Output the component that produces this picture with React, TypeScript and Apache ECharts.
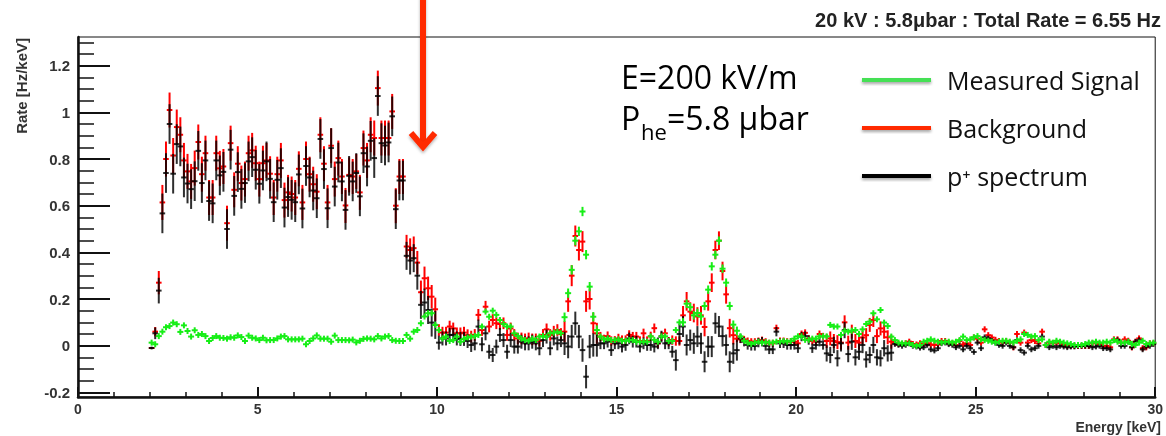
import React, { useEffect, useRef } from 'react';
import * as echarts from 'echarts';

// Histogram binning (keV)
const BIN_START = 2.0;
const BIN_WIDTH = 0.1;

// Rates [Hz/keV], one value per 0.1 keV bin starting at 2.0 keV (rows of 10 bins = 1 keV)
const measuredSignal = [
  0.013, 0.006, 0.041, 0.06, 0.079, 0.084, 0.099, 0.092, 0.059, 0.087,
  0.063, 0.039, 0.066, 0.046, 0.05, 0.041, 0.02, 0.033, 0.041, 0.034,
  0.033, 0.03, 0.036, 0.034, 0.044, 0.037, 0.02, 0.043, 0.034, 0.031,
  0.024, 0.034, 0.023, 0.024, 0.024, 0.031, 0.039, 0.041, 0.027, 0.027,
  0.027, 0.027, 0.03, 0.006, 0.02, 0.031, 0.044, 0.03, 0.03, 0.03,
  0.017, 0.043, 0.024, 0.024, 0.024, 0.023, 0.026, 0.014, 0.021, 0.029,
  0.031, 0.03, 0.027, 0.041, 0.031, 0.039, 0.041, 0.024, 0.021, 0.02,
  0.02, 0.046, 0.03, 0.06, 0.067, 0.096, 0.125, 0.139, 0.139, 0.089,
  0.067, 0.031, 0.039, 0.02, 0.024, 0.039, 0.017, 0.029, 0.035, 0.039,
  0.041, 0.046, 0.082, 0.146, 0.124, 0.15, 0.132, 0.11, 0.093, 0.082,
  0.082, 0.053, 0.041, 0.03, 0.024, 0.021, 0.03, 0.024, 0.039, 0.041,
  0.039, 0.053, 0.056, 0.06, 0.053, 0.122, 0.225, 0.325, 0.45, 0.49,
  0.575, 0.39, 0.253, 0.124, 0.067, 0.039, 0.027, 0.031, 0.024, 0.024,
  0.027, 0.021, 0.021, 0.024, 0.024, 0.017, 0.017, 0.017, 0.017, 0.04,
  0.025, 0.017, 0.04, 0.04, 0.02, 0.02, 0.067, 0.1, 0.1, 0.18,
  0.165, 0.13, 0.14, 0.125, 0.17, 0.24, 0.34, 0.39, 0.45, 0.33,
  0.27, 0.17, 0.09, 0.064, 0.04, 0.021, 0.013, 0.007, 0.013, 0.017,
  0.013, 0.015, 0.013, 0.013, 0.017, 0.017, 0.02, 0.017, 0.02, 0.03,
  0.04, 0.04, 0.025, 0.025, 0.03, 0.03, 0.04, 0.04, 0.04, 0.089,
  0.082, 0.082, 0.046, 0.064, 0.06, 0.064, 0.067, 0.05, 0.07, 0.093,
  0.103, 0.139, 0.113, 0.153, 0.099, 0.084, 0.039, 0.024, 0.013, 0.01,
  0.01, 0.01, 0.003, -0.001, 0.003, 0.017, 0.021, 0.027, 0.021, 0.017,
  0.013, 0.017, 0.017, 0.013, 0.017, 0.024, 0.039, 0.024, 0.027, 0.036,
  0.041, 0.027, 0.024, 0.021, 0.017, 0.013, 0.017, 0.021, 0.021, 0.017,
  0.013, 0.021, 0.027, 0.05, 0.046, 0.039, 0.041, 0.024, 0.027, 0.003,
  0.017, 0.013, 0.021, 0.017, 0.013, 0.01, 0.007, 0.003, 0.003, 0.003,
  0.007, 0.013, 0.013, 0.017, 0.013, 0.013, 0.017, 0.013, 0.024, 0.017,
  0.013, 0.013, 0.017, 0.007, 0.003, 0.013, 0.021, 0.007, 0.01, 0.013,
];

const background = [
  -0.01, 0.06, 0.27, 0.614, 0.8, 1.01, 0.815, 0.937, 0.904, 0.794,
  0.747, 0.704, 0.761, 0.873, 0.735, 0.825, 0.635, 0.635, 0.825, 0.76,
  0.768, 0.525, 0.868, 0.668, 0.78, 0.697, 0.714, 0.825, 0.837, 0.782,
  0.714, 0.782, 0.794, 0.737, 0.635, 0.735, 0.794, 0.624, 0.657, 0.65,
  0.635, 0.758, 0.614, 0.8, 0.735, 0.692, 0.66, 0.904, 0.78, 0.614,
  0.857, 0.714, 0.804, 0.725, 0.601, 0.732, 0.725, 0.747, 0.657, 0.847,
  0.794, 0.904, 0.89, 1.104, 0.89, 0.89, 0.89, 1.004, 0.6, 0.725,
  0.725, 0.425, 0.41, 0.418, 0.356, 0.229, 0.289, 0.246, 0.21, 0.156,
  0.067, 0.056, 0.056, 0.082, 0.074, 0.053, 0.053, 0.056, 0.045, 0.039,
  0.046, 0.132, 0.067, 0.167, 0.082, 0.11, 0.096, 0.093, 0.096, 0.046,
  0.074, 0.046, 0.031, 0.031, 0.027, 0.031, 0.027, 0.027, 0.021, 0.046,
  0.07, 0.046, 0.06, 0.067, 0.05, 0.06, 0.19, 0.3, 0.47, 0.41,
  0.446, 0.19, 0.2, 0.096, 0.053, 0.039, 0.027, 0.041, 0.02, 0.021,
  0.031, 0.024, 0.024, 0.046, 0.039, 0.039, 0.02, 0.053, 0.02, 0.04,
  0.075, 0.01, 0.04, 0.053, 0.017, 0.024, 0.02, 0.02, 0.13, 0.19,
  0.146, 0.14, 0.125, 0.13, 0.08, 0.19, 0.27, 0.41, 0.45, 0.32,
  0.22, 0.075, 0.045, 0.03, 0.027, 0.027, 0.02, 0.017, 0.017, 0.02,
  0.024, 0.017, 0.01, 0.01, 0.075, 0.02, 0.02, 0.017, 0.017, 0.017,
  0.01, 0.05, 0.055, 0.03, 0.02, 0.017, 0.05, 0.04, 0.02, 0.031,
  0.02, 0.015, 0.013, 0.1, 0.013, 0.06, 0.02, 0.013, 0.035, 0.045,
  0.089, 0.11, 0.041, 0.074, 0.06, 0.036, 0.017, 0.013, 0.007, 0.007,
  0.01, 0.017, 0.007, 0.005, 0.01, 0.007, 0.01, 0.005, 0.003, 0.005,
  0.02, 0.02, 0.013, 0.01, 0.003, 0.02, 0.005, 0.01, 0.003, 0.035,
  0.03, 0.013, 0.07, 0.045, 0.035, 0.025, 0.02, 0.013, 0.02, 0.013,
  -0.007, 0.05, 0.013, 0.056, 0.013, 0.024, 0.02, 0.01, 0.06, 0.003,
  0.013, 0.01, 0.013, 0.01, 0.003, -0.001, -0.001, -0.001, -0.001, -0.001,
  -0.001, -0.001, 0.01, 0.013, 0.007, -0.001, -0.001, -0.007, 0.027, 0.027,
  0.013, 0.027, 0.021, -0.007, 0.017, 0.031, -0.011, -0.007, 0.01, 0.01,
];

const protonSpectrum = [
  -0.01, 0.053, 0.236, 0.567, 0.74, 0.95, 0.737, 0.864, 0.854, 0.721,
  0.695, 0.671, 0.705, 0.835, 0.697, 0.794, 0.62, 0.61, 0.794, 0.73,
  0.745, 0.5, 0.84, 0.642, 0.744, 0.672, 0.697, 0.79, 0.808, 0.754,
  0.694, 0.751, 0.79, 0.715, 0.615, 0.711, 0.761, 0.592, 0.637, 0.625,
  0.615, 0.734, 0.588, 0.77, 0.721, 0.665, 0.632, 0.886, 0.757, 0.589,
  0.847, 0.682, 0.785, 0.704, 0.582, 0.728, 0.704, 0.74, 0.64, 0.825,
  0.768, 0.878, 0.804, 1.07, 0.868, 0.858, 0.871, 0.983, 0.585, 0.708,
  0.708, 0.385, 0.365, 0.375, 0.3, 0.175, 0.185, 0.153, 0.099, 0.089,
  0.013, 0.031, 0.031, 0.046, 0.046, 0.031, 0.029, 0.029, 0.02, 0.003,
  0.01, 0.082, 0.006, 0.053, -0.026, -0.04, -0.004, 0.046, 0.024, -0.026,
  0.024, -0.004, -0.004, 0.017, 0.01, 0.01, 0.017, 0.01, -0.011, 0.024,
  0.039, -0.011, 0.031, 0.01, 0.024, 0.01, -0.004, 0.039, 0.096, 0.039,
  -0.019, -0.133, -0.004, 0.003, 0.003, 0.01, 0.01, 0.017, -0.019, 0.01,
  0.01, -0.004, 0.003, 0.031, 0.017, 0.017, -0.004, 0.01, 0.003, 0.003,
  -0.004, 0.01, 0.039, 0.01, 0.01, -0.026, -0.062, 0.05, 0.082, 0.003,
  0.024, 0.01, 0.039, 0.01, -0.069, -0.004, -0.004, 0.096, 0.082, 0.041,
  0.003, -0.069, -0.033, -0.019, 0.031, 0.017, 0.003, -0.001, -0.001, 0.013,
  0.017, -0.001, -0.016, -0.016, 0.06, 0.01, 0.01, 0.003, 0.003, 0.003,
  -0.011, 0.039, 0.041, 0.024, -0.011, 0.003, 0.017, 0.003, -0.033, -0.04,
  0.003, -0.054, 0.01, 0.067, -0.036, 0.017, -0.05, -0.026, 0.003, -0.059,
  -0.04, 0.003, -0.05, -0.054, -0.011, -0.033, -0.03, 0.007, 0.003, -0.001,
  0.003, 0.01, -0.001, -0.004, -0.009, -0.007, 0.003, -0.016, -0.021, -0.011,
  0.01, 0.013, 0.006, 0.003, -0.007, -0.001, -0.016, -0.001, -0.011, -0.027,
  0.013, -0.011, 0.036, 0.031, 0.021, 0.013, 0.003, -0.001, 0.013, -0.001,
  -0.007, 0.024, -0.019, -0.03, -0.001, -0.016, -0.011, -0.001, 0.039, 0.003,
  -0.007, -0.001, -0.007, -0.001, -0.004, -0.007, -0.004, -0.004, -0.001, -0.001,
  -0.001, -0.001, -0.007, -0.004, -0.001, -0.011, -0.011, -0.016, 0.024, 0.024,
  -0.001, -0.001, 0.017, -0.007, 0.017, 0.024, -0.016, -0.004, -0.001, 0.007,
];

// Error bar half-lengths by energy range: [from keV, to keV, error]
const measuredErr: [number, number, number][] = [
  [2.0, 13.5, 0.007], [13.5, 14.5, 0.02], [14.5, 16.8, 0.007], [16.8, 18.4, 0.018],
  [18.4, 20.9, 0.007], [20.9, 22.7, 0.012], [22.7, 30, 0.006],
];
const backgroundErr: [number, number, number][] = [
  [2.0, 2.1, 0.004], [2.1, 2.2, 0.02], [2.2, 2.3, 0.05], [2.3, 9.1, 0.075],
  [9.1, 10.0, 0.05], [10.0, 13.5, 0.025], [13.5, 14.5, 0.045], [14.5, 16.8, 0.02],
  [16.8, 18.3, 0.04], [18.3, 20.8, 0.015], [20.8, 22.7, 0.03], [22.7, 30, 0.013],
];
const protonErr: [number, number, number][] = [
  [2.0, 2.1, 0.006], [2.1, 2.2, 0.025], [2.2, 2.3, 0.055], [2.3, 9.1, 0.085],
  [9.1, 10.0, 0.06], [10.0, 13.5, 0.03], [13.5, 14.5, 0.05], [14.5, 16.6, 0.025],
  [16.6, 18.4, 0.045], [18.4, 20.8, 0.02], [20.8, 22.7, 0.035], [22.7, 30, 0.012],
];

const yMajorTicks = [-0.2, 0, 0.2, 0.4, 0.6, 0.8, 1, 1.2];
const yMinorTicks = [-0.15, -0.1, -0.05, 0.05, 0.1, 0.15, 0.25, 0.3, 0.35, 0.45, 0.5, 0.55,
  0.65, 0.7, 0.75, 0.85, 0.9, 0.95, 1.05, 1.1, 1.15, 1.25, 1.3];

const SERIES_NAMES = ['Measured Signal', 'Background', 'p\u207A spectrum'];
const DATA_COLORS = ['#16ee16', '#ff0000', '#000000'];
const LEGEND_COLORS = ['#45e055', '#ff2a00', '#000000'];

function errFor(bands: [number, number, number][], x: number) {
  for (const b of bands) if (x >= b[0] && x < b[1]) return b[2];
  return bands[bands.length - 1][2];
}

function toPoints(values: number[], bands: [number, number, number][]) {
  return values.map((v, i) => {
    const x = +(BIN_START + BIN_WIDTH * (i + 0.5)).toFixed(2);
    return [x, v, errFor(bands, x)];
  });
}

function makeRender(color: string, opacity: number, lw: number, halfW: number, minHalf: number) {
  return (_params: any, api: any) => {
    const x = api.value(0);
    const y = api.value(1);
    const e = api.value(2);
    const c = api.coord([x, y]);
    const t = api.coord([x, y + e]);
    const b = api.coord([x, y - e]);
    const y1 = Math.min(t[1], c[1] - minHalf);
    const y2 = Math.max(b[1], c[1] + minHalf);
    const style = { stroke: color, lineWidth: lw, opacity };
    return {
      type: 'group',
      children: [
        { type: 'line', shape: { x1: c[0], y1, x2: c[0], y2 }, style },
        { type: 'line', shape: { x1: c[0] - halfW, y1: c[1], x2: c[0] + halfW, y2: c[1] }, style },
      ],
    };
  };
}

export default function App() {
  const ref = useRef<HTMLDivElement>(null);

  useEffect(() => {
    if (!ref.current) return;
    const chart = echarts.init(ref.current, undefined, { renderer: 'svg' });
    const axisFont = { fontFamily: 'Liberation Sans', fontWeight: 'bold' as const, color: '#333' };
    const textFont = 'Open Sans';
    const arrowColor = '#ff2a00';
    const arrowShadow = { shadowBlur: 3, shadowColor: 'rgba(0,0,0,0.3)', shadowOffsetY: 2 };

    chart.setOption({
      animation: false,
      grid: { left: 78, right: 6, top: 37, bottom: 39, show: true, borderColor: '#111', borderWidth: 1 },
      xAxis: {
        type: 'value', min: 0, max: 30, interval: 5,
        axisLine: { onZero: false, lineStyle: { color: '#111', width: 2.5 } },
        axisTick: { inside: true, length: 10, lineStyle: { color: '#111', width: 2 } },
        minorTick: { show: true, splitNumber: 5, length: 5, lineStyle: { color: '#111', width: 1.5 } },
        axisLabel: { ...axisFont, fontSize: 14, margin: 5 },
        splitLine: { show: false },
      },
      yAxis: [
        {
          type: 'value', min: -0.22, max: 1.323, position: 'left',
          axisLine: { show: true, onZero: false, lineStyle: { color: '#111', width: 2.5 } },
          axisTick: { show: true, inside: true, length: 32, customValues: yMajorTicks, lineStyle: { color: '#111', width: 2 } },
          axisLabel: { ...axisFont, fontSize: 15, margin: 8, customValues: yMajorTicks },
          splitLine: { show: false },
        },
        {
          type: 'value', min: -0.22, max: 1.323, position: 'left',
          axisLine: { show: false, onZero: false },
          axisTick: { show: true, inside: true, length: 16, customValues: yMinorTicks, lineStyle: { color: '#111', width: 1.5 } },
          axisLabel: { show: false },
          splitLine: { show: false },
        },
      ],
      legend: {
        orient: 'vertical', left: 857, top: 60, itemWidth: 69, itemHeight: 4, itemGap: 18,
        selectedMode: false,
        data: SERIES_NAMES.map((n, i) => ({ name: n, icon: 'rect', itemStyle: { color: LEGEND_COLORS[i], shadowBlur: 3, shadowColor: 'rgba(0,0,0,0.35)', shadowOffsetY: 2 } })),
        textStyle: { fontFamily: textFont, fontSize: 25, color: '#111', lineHeight: 30, padding: [0, 0, 0, 11] },
      },
      series: [
        {
          name: SERIES_NAMES[1], type: 'custom', z: 2, yAxisIndex: 0,
          itemStyle: { color: DATA_COLORS[1] },
          encode: { x: 0, y: 1 },
          renderItem: makeRender(DATA_COLORS[1], 1, 2, 2.8, 1),
          data: toPoints(background, backgroundErr),
        },
        {
          name: SERIES_NAMES[2], type: 'custom', z: 3, yAxisIndex: 0,
          itemStyle: { color: DATA_COLORS[2] },
          encode: { x: 0, y: 1 },
          renderItem: makeRender(DATA_COLORS[2], 0.82, 2, 2.8, 1),
          data: toPoints(protonSpectrum, protonErr),
        },
        {
          name: SERIES_NAMES[0], type: 'custom', z: 4, yAxisIndex: 0,
          itemStyle: { color: DATA_COLORS[0] },
          encode: { x: 0, y: 1 },
          renderItem: makeRender(DATA_COLORS[0], 1, 2, 3, 3),
          data: toPoints(measuredSignal, measuredErr),
        },
      ],
      graphic: [
        { type: 'text', x: 1161, y: 20, style: { text: '20 kV : 5.8\u03BCbar : Total Rate = 6.55 Hz', fill: '#222', font: 'bold 20px "Liberation Sans"', textAlign: 'right', textVerticalAlign: 'middle' } },
        { type: 'text', x: 21, y: 38, rotation: Math.PI / 2, style: { text: 'Rate [Hz/keV]', fill: '#333', font: 'bold 15px "Liberation Sans"', textAlign: 'right', textVerticalAlign: 'middle' } },
        { type: 'text', x: 1161, y: 427, style: { text: 'Energy [keV]', fill: '#333', font: 'bold 14px "Liberation Sans"', textAlign: 'right', textVerticalAlign: 'middle' } },
        { type: 'text', x: 621, y: 76, style: { text: 'E=200 kV/m', fill: '#000', font: `32px "${textFont}"`, textAlign: 'left', textVerticalAlign: 'middle' } },
        { type: 'text', x: 621, y: 117, style: { text: 'P', fill: '#000', font: `32px "${textFont}"`, textAlign: 'left', textVerticalAlign: 'middle' } },
        { type: 'text', x: 641, y: 131, style: { text: 'he', fill: '#000', font: `22px "${textFont}"`, textAlign: 'left', textVerticalAlign: 'middle' } },
        { type: 'text', x: 667, y: 117, style: { text: '=5.8 \u03BCbar', fill: '#000', font: `32px "${textFont}"`, textAlign: 'left', textVerticalAlign: 'middle' } },
        { type: 'rect', shape: { x: 420, y: -4, width: 6, height: 149 }, style: { fill: arrowColor, ...arrowShadow } },
        { type: 'polyline', shape: { points: [[411, 133], [423, 147], [435, 133]] }, style: { stroke: arrowColor, lineWidth: 6, lineJoin: 'miter', fill: 'none', ...arrowShadow } },
      ],
    });
    return () => chart.dispose();
  }, []);

  return <div ref={ref} style={{ position: 'fixed', left: 0, top: 0, width: 1166, height: 436 }} />;
}
